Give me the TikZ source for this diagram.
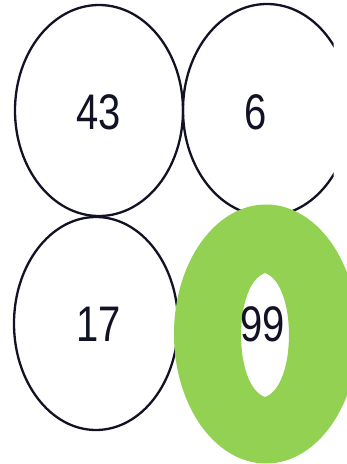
\documentclass[tikz,border=0pt]{standalone}
\usepackage{fontspec}
\setmainfont{Liberation Sans}
\definecolor{ink}{RGB}{18,18,38}
\definecolor{ringgreen}{RGB}{147,209,82}
\begin{document}
\begin{tikzpicture}[x=1pt,y=-1pt,
  oval/.style={draw=ink,line width=2.3pt},
  num/.style={text=ink,font=\fontsize{50}{50}\selectfont,xscale=0.8,inner sep=0pt}]
\useasboundingbox (0,0) rectangle (346,464);
\fill[white] (0,0) rectangle (346,464);
% ellipses
\draw[oval] (99,110.5) ellipse [x radius=84,y radius=105.5];
\begin{scope}
  \clip (0,0) rectangle (333.5,464);
  \draw[oval] (267,110) ellipse [x radius=84,y radius=106];
\end{scope}
\draw[oval] (96,323.5) ellipse [x radius=82,y radius=106.5];
% green ring
\fill[ringgreen,even odd rule] (266,334) ellipse [x radius=92,y radius=129.5]
  (265,273) .. controls (297,284) and (297,386) .. (265,397)
  .. controls (233,386) and (233,284) .. (265,273) -- cycle;
% numbers
\node[num] (n43) at (99,112) {43};
\node[num] (n6) at (256,112) {6};
\node[num] (n17) at (99,324) {17};
\node[num] (n99) at (263,324) {99};
\end{tikzpicture}
\end{document}
